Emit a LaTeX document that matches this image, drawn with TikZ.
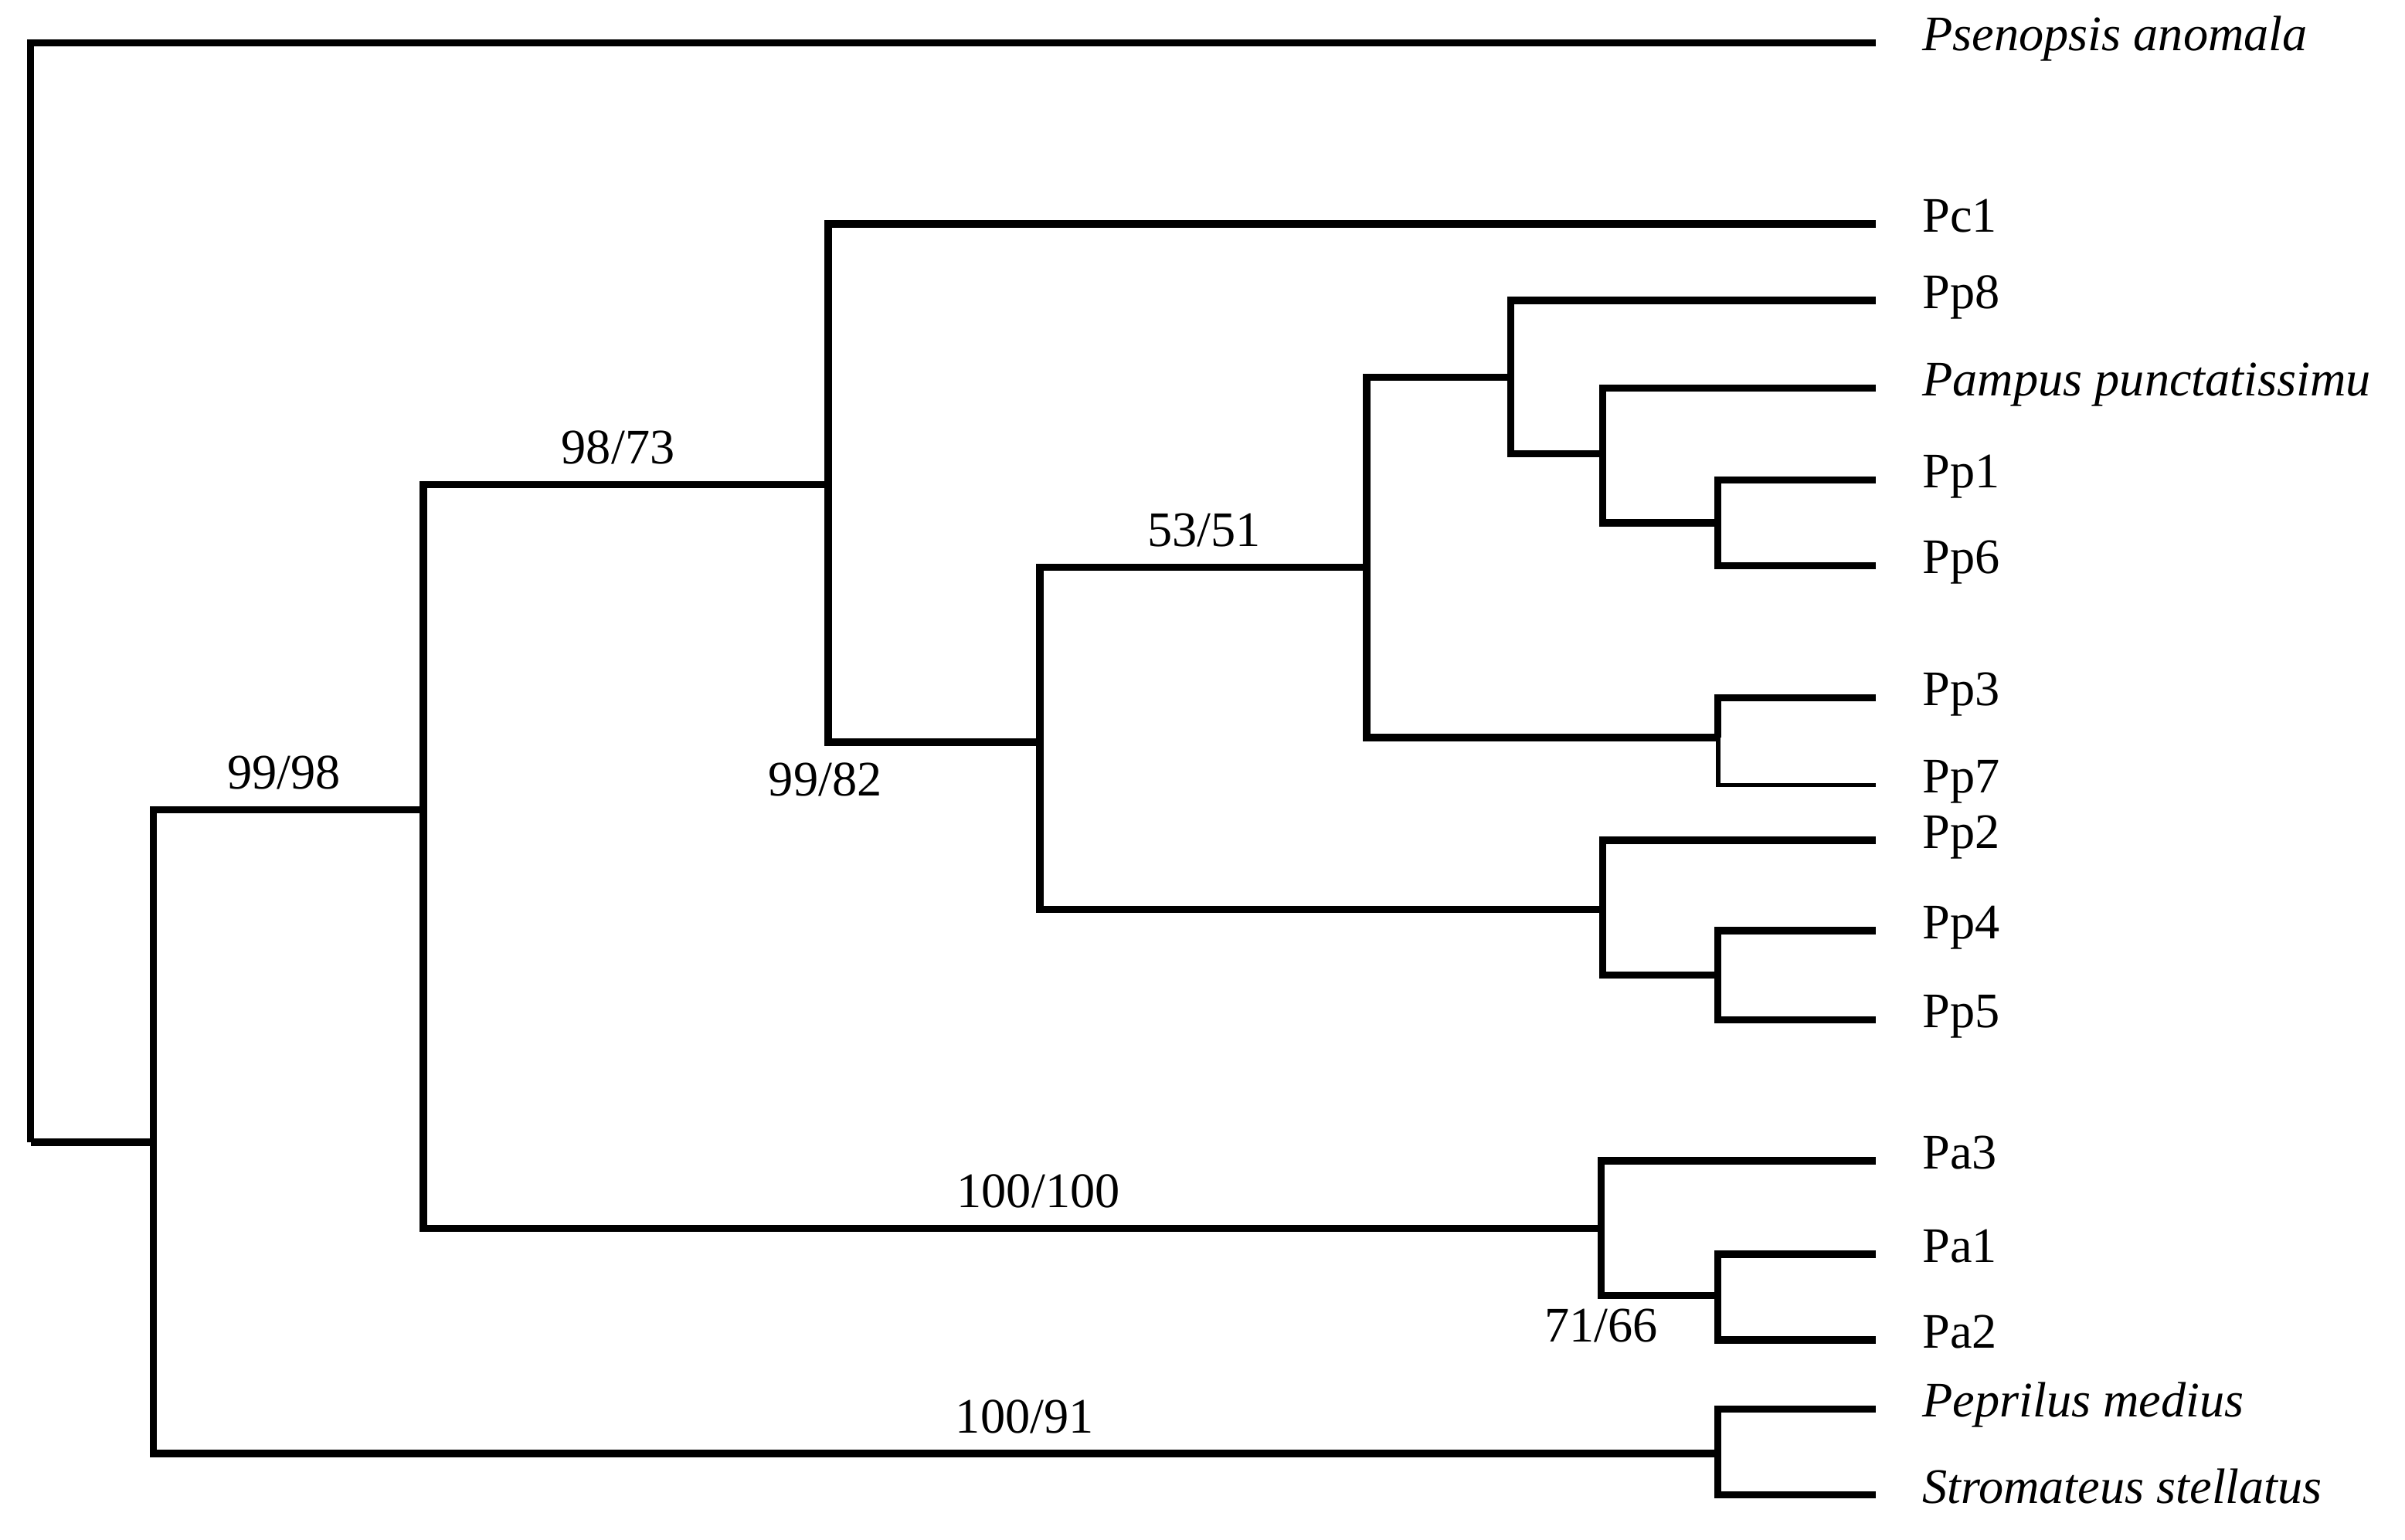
\documentclass[tikz,border=0pt]{standalone}
\usepackage{fontspec}
\setmainfont{Liberation Serif}
\usetikzlibrary{positioning}

\tikzset{every picture/.style={line width=3.6pt},
  branch/.style={line join=miter, line cap=butt},
  thinbranch/.style={branch, line width=2.2pt},
  leaf/.style={anchor=west, inner sep=0pt, text height=17pt, text depth=5pt, yshift=2.1pt, font=\fontsize{24.3}{29}\selectfont},
  species/.style={leaf, font=\fontsize{24.3}{29}\selectfont\itshape},
  boot/.style={anchor=base, inner sep=0pt, font=\fontsize{24.3}{29}\selectfont}}

\begin{document}
\begin{tikzpicture}[x=0.75pt,y=0.75pt,yscale=-1,xscale=1]
\useasboundingbox (0,0) rectangle (1568,1004);

%Internal nodes
\coordinate (root) at (20,745);
\coordinate (nA) at (100,745);
\coordinate (nB) at (276,528);
\coordinate (nC) at (540,316);
\coordinate (nD) at (678,484);
\coordinate (nE) at (891,370);
\coordinate (nF) at (985,246);
\coordinate (nG) at (1045,296);
\coordinate (nH) at (1120,341);
\coordinate (nI) at (1120,481);
\coordinate (nJ) at (1045,593);
\coordinate (nK) at (1120,636);
\coordinate (nL) at (1044,801);
\coordinate (nM) at (1120,845);
\coordinate (nN) at (1120,948);

%Tips
\coordinate (tPsa) at (1223,28);
\coordinate (tPc1) at (1223,146);
\coordinate (tPp8) at (1223,196);
\coordinate (tPpu) at (1223,253);
\coordinate (tPp1) at (1223,313);
\coordinate (tPp6) at (1223,369);
\coordinate (tPp3) at (1223,455);
\coordinate (tPp7) at (1223,512);
\coordinate (tPp2) at (1223,548);
\coordinate (tPp4) at (1223,607);
\coordinate (tPp5) at (1223,665);
\coordinate (tPa3) at (1223,757);
\coordinate (tPa1) at (1223,818);
\coordinate (tPa2) at (1223,874);
\coordinate (tPme) at (1223,919);
\coordinate (tSst) at (1223,975);

%Branches
\draw [branch] (root) |- (tPsa);
\draw [branch] (root) -- (nA);
\draw [branch] (nA) |- (nB);
\draw [branch] (nA) |- (nN);
\draw [branch] (nB) |- (nC);
\draw [branch] (nB) |- (nL);
\draw [branch] (nC) |- (tPc1);
\draw [branch] (nC) |- (nD);
\draw [branch] (nD) |- (nE);
\draw [branch] (nD) |- (nJ);
\draw [branch] (nE) |- (nF);
\draw [branch] (nE) |- (nI);
\draw [branch] (nF) |- (tPp8);
\draw [branch] (nF) |- (nG);
\draw [branch] (nG) |- (tPpu);
\draw [branch] (nG) |- (nH);
\draw [branch] (nH) |- (tPp1);
\draw [branch] (nH) |- (tPp6);
\draw [branch] (nI) |- (tPp3);
\draw [thinbranch] (nI) |- (tPp7);
\draw [branch] (nJ) |- (tPp2);
\draw [branch] (nJ) |- (nK);
\draw [branch] (nK) |- (tPp4);
\draw [branch] (nK) |- (tPp5);
\draw [branch] (nL) |- (tPa3);
\draw [branch] (nL) |- (nM);
\draw [branch] (nM) |- (tPa1);
\draw [branch] (nM) |- (tPa2);
\draw [branch] (nN) |- (tPme);
\draw [branch] (nN) |- (tSst);

%Tip labels
\node [species, right=21pt of tPsa] (psa) {Psenopsis anomala};
\node [leaf, right=21pt of tPc1] (pc1) {Pc1};
\node [leaf, right=21pt of tPp8] (pp8) {Pp8};
\node [species, right=21pt of tPpu] (ppu) {Pampus punctatissimu};
\node [leaf, right=21pt of tPp1] (pp1) {Pp1};
\node [leaf, right=21pt of tPp6] (pp6) {Pp6};
\node [leaf, right=21pt of tPp3] (pp3) {Pp3};
\node [leaf, right=21pt of tPp7] (pp7) {Pp7};
\node [leaf, right=21pt of tPp2] (pp2) {Pp2};
\node [leaf, right=21pt of tPp4] (pp4) {Pp4};
\node [leaf, right=21pt of tPp5] (pp5) {Pp5};
\node [leaf, right=21pt of tPa3] (pa3) {Pa3};
\node [leaf, right=21pt of tPa1] (pa1) {Pa1};
\node [leaf, right=21pt of tPa2] (pa2) {Pa2};
\node [species, right=21pt of tPme] (pme) {Peprilus medius};
\node [species, right=21pt of tSst] (sst) {Stromateus stellatus};

%Support values
\node [boot] (bB) at (185,514.4) {99/98};
\node [boot] (bC) at (403,302.4) {98/73};
\node [boot] (bD) at (538,519.2) {99/82};
\node [boot] (bE) at (785,356.4) {53/51};
\node [boot] (bL) at (677,787.4) {100/100};
\node [boot] (bM) at (1044,875.3) {71/66};
\node [boot] (bN) at (668,934.4) {100/91};

\end{tikzpicture}
\end{document}
